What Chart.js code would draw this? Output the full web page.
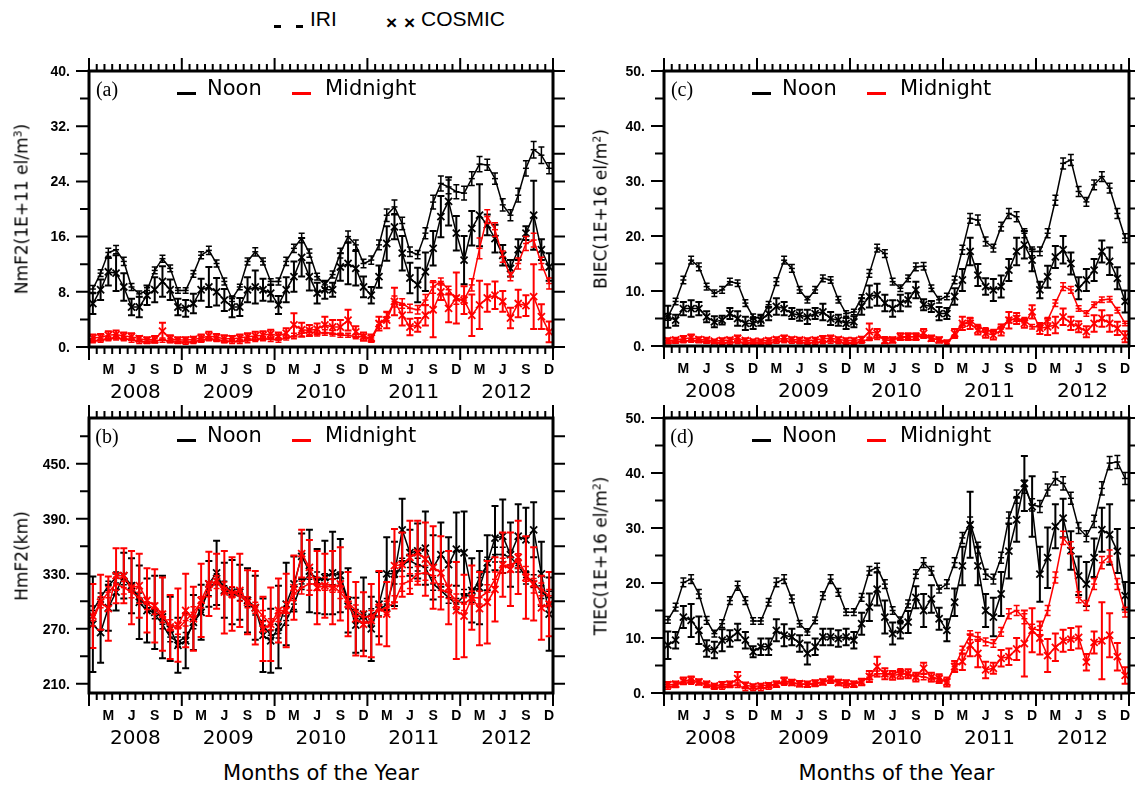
<!DOCTYPE html>
<html>
<head>
<meta charset="utf-8">
<title>IRI vs COSMIC: NmF2, HmF2, BIEC, TIEC 2008-2012</title>
<script src="https://cdn.jsdelivr.net/npm/chart.js@4.4.1/dist/chart.umd.min.js"></script>
<style>
  html, body { margin: 0; padding: 0; background: #fff; }
  body { position: relative; width: 1135px; height: 791px; overflow: hidden; font-family: "DejaVu Sans", sans-serif; color: #000; }
  canvas { position: absolute; }
  .t { position: absolute; white-space: nowrap; line-height: 1; }
  .c { transform: translate(-50%, -50%); }
  .ytitle { transform: translate(-50%, -50%) rotate(-90deg); font-size: 17px; }
  .ytitle sup { font-size: 11px; vertical-align: 6px; line-height: 0; }
  .tag { font-family: "Liberation Serif", "Times New Roman", serif; font-size: 20px; }
  .key { font-size: 21px; }
  .dash { position: absolute; height: 3px; }
  .top { font-family: "Liberation Sans", Arial, sans-serif; font-size: 21px; }
  .mark { font-family: "Liberation Sans", Arial, sans-serif; font-weight: bold; font-size: 19px; }
  .xtitle { font-size: 21px; }
</style>
</head>
<body>
<div class="dash" style="left:274px;top:25px;width:7px;background:#000"></div>
<div class="dash" style="left:296px;top:25px;width:7px;background:#000"></div>
<div class="t top" style="left:310px;top:8px">IRI</div>
<div class="t mark" style="left:386px;top:13px">×</div>
<div class="t mark" style="left:404px;top:13px">×</div>
<div class="t top" style="left:421px;top:8px">COSMIC</div>
<script>
// --- 1. DATA (one value per month, Jan 2008 .. Dec 2012) ---
const years = ['2008', '2009', '2010', '2011', '2012'];
const seasonLabels = ['M', 'J', 'S', 'D'];
const seasonMonths = [3, 6, 9, 12];

// tick values / labelled ticks
const nmTicks = [0, 4, 8, 12, 16, 20, 24, 28, 32, 36, 40];
const nmLabels = [0, 8, 16, 24, 32, 40];
const hmTicks = [210, 240, 270, 300, 330, 360, 390, 420, 450, 480];
const hmLabels = [210, 270, 330, 390, 450];
const tecTicks = [0, 5, 10, 15, 20, 25, 30, 35, 40, 45, 50];
const tecLabels = [0, 10, 20, 30, 40, 50];

// (a) NmF2 (1E+11 el/m3)
const nmIriNoon = [
  8.4, 10.7, 13.7, 14.1, 12.4, 8.7, 7.7, 8.2, 11.1, 12.8, 11.4, 8.2,
  8.2, 10.6, 13.3, 14.0, 12.1, 9.5, 7.0, 8.7, 12.4, 13.8, 12.4, 9.5,
  9.5, 12.4, 14.3, 15.8, 13.6, 10.2, 9.0, 10.5, 13.6, 16.0, 14.8, 12.1,
  12.6, 14.8, 19.1, 20.3, 17.9, 13.8, 13.4, 16.5, 21.0, 23.7, 23.2, 22.5,
  22.3, 24.4, 26.5, 26.4, 24.4, 20.6, 19.1, 22.0, 25.9, 28.6, 27.8, 25.9];
const nmIriNoonErr = [
  0.5, 0.5, 0.6, 0.6, 0.6, 0.5, 0.4, 0.4, 0.5, 0.5, 0.5, 0.4,
  0.4, 0.5, 0.5, 0.6, 0.5, 0.5, 0.4, 0.4, 0.5, 0.6, 0.5, 0.4,
  0.5, 0.6, 0.6, 0.7, 0.6, 0.5, 0.5, 0.5, 0.7, 0.8, 0.7, 0.6,
  0.6, 0.7, 0.9, 1.0, 0.9, 0.7, 0.6, 0.8, 1.0, 1.1, 1.0, 1.0,
  1.0, 1.0, 1.1, 0.8, 0.8, 0.9, 0.8, 1.0, 1.1, 1.2, 1.2, 0.8];
const nmCosNoon = [
  6.3, 8.3, 10.9, 10.7, 8.7, 5.8, 5.8, 7.5, 8.3, 9.5, 8.3, 5.8,
  5.6, 6.3, 8.3, 8.7, 8.0, 6.8, 5.8, 5.8, 8.3, 8.7, 8.3, 7.8,
  6.1, 8.3, 10.2, 13.0, 10.2, 7.8, 8.3, 8.3, 11.6, 12.1, 11.4, 8.7,
  7.5, 10.2, 15.0, 17.4, 13.6, 10.0, 9.0, 10.9, 14.3, 18.9, 21.1, 16.5,
  12.6, 17.2, 19.1, 17.7, 15.7, 13.3, 11.4, 14.1, 16.5, 19.1, 14.1, 11.6];
const nmCosNoonErr = [
  1.5, 1.5, 2.0, 2.6, 2.0, 1.2, 1.5, 1.4, 1.8, 2.2, 1.5, 1.2,
  1.2, 1.4, 1.6, 2.9, 2.0, 1.6, 1.5, 1.3, 1.8, 2.4, 1.6, 1.2,
  1.3, 1.8, 2.2, 2.8, 2.0, 1.5, 1.3, 1.0, 2.0, 3.0, 2.5, 1.5,
  1.2, 1.6, 2.5, 1.8, 2.5, 2.2, 2.5, 2.8, 2.5, 3.0, 3.5, 2.5,
  3.5, 2.5, 4.5, 1.5, 2.0, 1.5, 1.2, 1.5, 1.0, 5.0, 1.5, 2.0];
const nmIriMid = [
  0.9, 1.0, 1.2, 1.3, 1.2, 1.0, 0.8, 0.8, 0.9, 1.0, 0.9, 0.8,
  0.7, 0.8, 1.0, 1.2, 1.1, 0.9, 0.8, 0.8, 0.9, 1.1, 1.2, 1.1,
  1.0, 1.3, 1.6, 2.0, 2.2, 2.0, 2.1, 2.0, 1.7, 1.7, 1.5, 1.5,
  1.0, 3.2, 4.4, 6.6, 6.3, 5.6, 5.4, 6.8, 8.7, 9.5, 8.3, 6.8,
  6.8, 9.0, 14.3, 18.9, 17.0, 13.1, 10.2, 12.1, 15.0, 15.5, 12.1, 9.2];
const nmIriMidErr = [
  0.3, 0.3, 0.3, 0.3, 0.3, 0.3, 0.3, 0.3, 0.3, 0.3, 0.3, 0.3,
  0.3, 0.3, 0.3, 0.3, 0.3, 0.3, 0.3, 0.3, 0.3, 0.3, 0.3, 0.3,
  0.3, 0.3, 0.4, 0.4, 0.4, 0.4, 0.4, 0.4, 0.3, 0.3, 0.3, 0.3,
  0.3, 0.5, 0.6, 0.8, 0.7, 0.6, 0.6, 0.8, 0.9, 0.5, 0.5, 0.6,
  0.6, 0.9, 1.5, 1.0, 1.0, 0.8, 0.6, 0.8, 1.0, 1.0, 0.9, 0.8];
const nmCosMid = [
  1.3, 1.4, 1.7, 1.8, 1.6, 1.5, 1.2, 1.0, 1.1, 2.3, 1.2, 1.0,
  1.0, 1.1, 1.3, 1.6, 1.4, 1.2, 1.2, 1.3, 1.5, 1.6, 1.7, 1.9,
  1.6, 2.0, 3.2, 2.5, 2.4, 2.6, 3.2, 2.9, 2.9, 3.9, 2.2, 1.5,
  1.3, 3.4, 3.9, 6.6, 4.6, 2.9, 3.2, 4.6, 5.4, 8.0, 5.6, 7.1,
  6.8, 4.6, 6.1, 7.1, 7.5, 6.6, 4.2, 6.3, 6.0, 7.3, 4.4, 2.2];
const nmCosMidErr = [
  0.5, 0.5, 0.6, 0.6, 0.5, 0.5, 0.4, 0.4, 0.5, 1.2, 0.5, 0.4,
  0.4, 0.4, 0.5, 0.6, 0.5, 0.5, 0.4, 0.5, 0.5, 0.6, 0.6, 0.6,
  0.5, 0.7, 1.7, 1.0, 0.8, 0.8, 1.2, 1.0, 1.0, 1.5, 0.8, 0.6,
  0.5, 1.0, 1.2, 2.0, 1.5, 1.2, 1.0, 1.5, 4.0, 1.2, 2.0, 3.7,
  2.0, 3.0, 3.5, 2.0, 2.0, 1.5, 1.5, 2.0, 1.5, 4.7, 1.8, 1.5];

// (b) HmF2 (km)
const hmIriNoon = [
  290, 304, 317, 326, 324, 315, 304, 293, 286, 275, 261, 256,
  261, 275, 293, 312, 324, 317, 310, 306, 299, 290, 274, 263,
  265, 279, 297, 319, 330, 326, 324, 324, 326, 297, 286, 281,
  286, 290, 297, 326, 340, 344, 340, 337, 319, 312, 304, 297,
  306, 306, 326, 340, 351, 351, 348, 339, 326, 322, 310, 304];
const hmIriNoonErr = [
  5, 5, 5, 6, 6, 5, 5, 5, 5, 5, 5, 5,
  5, 5, 5, 6, 6, 5, 5, 5, 5, 5, 5, 5,
  5, 5, 6, 6, 6, 6, 6, 6, 6, 5, 5, 5,
  6, 6, 6, 7, 7, 7, 7, 7, 7, 7, 6, 6,
  7, 7, 7, 8, 8, 8, 8, 7, 7, 7, 7, 7];
const hmCosNoon = [
  275, 266, 293, 310, 328, 317, 299, 290, 288, 283, 270, 252,
  257, 277, 288, 319, 331, 312, 310, 310, 301, 293, 263, 257,
  272, 297, 319, 349, 333, 322, 326, 331, 328, 301, 274, 286,
  270, 297, 330, 330, 378, 353, 355, 358, 337, 351, 340, 357,
  353, 312, 315, 342, 369, 371, 351, 371, 367, 378, 330, 286];
const hmCosNoonErr = [
  52, 33, 25, 20, 25, 30, 40, 35, 40, 45, 35, 30,
  30, 30, 30, 25, 35, 30, 35, 30, 35, 35, 40, 35,
  45, 45, 30, 25, 45, 35, 40, 45, 40, 35, 30, 40,
  35, 35, 40, 35, 34, 25, 30, 40, 35, 35, 30, 40,
  45, 35, 40, 30, 35, 40, 35, 35, 35, 30, 35, 40];
const hmIriMid = [
  279, 299, 310, 319, 315, 310, 304, 297, 292, 283, 274, 270,
  279, 288, 299, 312, 321, 315, 310, 306, 299, 293, 284, 275,
  284, 293, 308, 315, 319, 319, 319, 317, 310, 299, 290, 283,
  284, 290, 293, 299, 319, 322, 330, 331, 328, 312, 310, 301,
  297, 304, 304, 310, 324, 339, 340, 344, 330, 317, 313, 306];
const hmIriMidErr = [
  6, 6, 6, 7, 7, 6, 6, 6, 6, 6, 6, 6,
  6, 6, 6, 7, 7, 6, 6, 6, 6, 6, 6, 6,
  6, 6, 7, 7, 7, 7, 7, 7, 7, 6, 6, 6,
  6, 7, 7, 7, 8, 8, 8, 8, 8, 7, 7, 7,
  7, 7, 7, 8, 8, 8, 8, 8, 8, 8, 7, 7];
const hmCosMid = [
  284, 299, 292, 328, 328, 315, 317, 301, 295, 286, 272, 274,
  290, 281, 301, 319, 322, 310, 308, 312, 299, 293, 270, 275,
  290, 290, 315, 352, 337, 315, 317, 315, 319, 297, 281, 275,
  279, 293, 286, 339, 340, 348, 353, 346, 337, 331, 315, 290,
  284, 304, 292, 299, 313, 340, 335, 348, 326, 319, 293, 297];
const hmCosMidErr = [
  35, 30, 35, 30, 30, 40, 35, 35, 40, 40, 35, 40,
  40, 35, 40, 35, 30, 45, 40, 40, 35, 40, 35, 40,
  35, 40, 35, 26, 30, 40, 35, 40, 40, 35, 40, 35,
  40, 40, 35, 40, 35, 40, 35, 40, 45, 40, 40, 53,
  45, 35, 40, 45, 35, 35, 40, 40, 45, 40, 35, 35];

// (c) BIEC (1E+16 el/m2)
const ieIriNoon = [
  5.3, 8.1, 12.0, 15.6, 14.4, 10.8, 9.6, 10.2, 11.7, 11.4, 7.8, 5.3,
  5.0, 7.5, 11.7, 15.6, 14.1, 10.2, 8.4, 10.2, 12.3, 12.0, 8.4, 5.9,
  6.2, 8.7, 13.2, 17.8, 16.8, 11.7, 10.5, 12.3, 14.4, 14.5, 10.5, 8.4,
  9.0, 12.0, 17.5, 23.2, 22.9, 19.0, 17.8, 21.7, 24.1, 23.5, 20.5, 17.2,
  17.2, 20.5, 26.5, 33.2, 33.8, 28.1, 26.2, 29.3, 30.8, 28.7, 24.1, 19.6];
const ieIriNoonErr = [
  0.6, 0.6, 0.7, 0.7, 0.7, 0.6, 0.6, 0.6, 0.6, 0.6, 0.6, 0.5,
  0.5, 0.6, 0.7, 0.7, 0.7, 0.6, 0.6, 0.6, 0.6, 0.6, 0.6, 0.5,
  0.5, 0.6, 0.7, 0.7, 0.7, 0.6, 0.6, 0.6, 0.7, 0.7, 0.6, 0.6,
  0.6, 0.7, 0.8, 0.9, 0.9, 0.8, 0.7, 0.8, 0.9, 0.9, 0.8, 0.8,
  0.8, 0.8, 0.9, 1.0, 1.0, 0.9, 0.8, 0.9, 0.9, 0.9, 0.9, 0.8];
const ieCosNoon = [
  5.3, 4.7, 6.8, 6.8, 6.8, 5.3, 4.4, 4.7, 5.9, 5.0, 4.1, 4.1,
  4.7, 5.9, 7.2, 6.8, 5.9, 5.6, 5.3, 5.9, 6.2, 5.0, 4.7, 4.1,
  4.4, 7.2, 9.0, 9.3, 7.8, 6.8, 7.8, 8.4, 10.2, 7.5, 7.2, 5.9,
  5.9, 9.0, 12.0, 17.2, 12.9, 10.8, 10.2, 10.8, 13.8, 17.2, 18.4, 15.6,
  10.2, 12.6, 16.2, 17.5, 15.0, 10.5, 12.0, 13.8, 17.2, 15.4, 12.3, 8.1];
const ieCosNoonErr = [
  2.0, 1.0, 1.2, 1.5, 1.2, 1.0, 1.0, 0.8, 1.0, 1.3, 1.2, 1.0,
  1.0, 1.2, 1.5, 1.2, 1.0, 1.0, 1.3, 1.0, 1.5, 1.2, 1.0, 1.0,
  1.0, 1.5, 2.0, 2.0, 1.5, 1.5, 1.5, 1.2, 1.5, 1.0, 1.0, 1.2,
  1.0, 1.5, 2.0, 2.5, 2.0, 1.5, 2.0, 2.0, 2.0, 2.5, 2.5, 2.0,
  1.5, 2.0, 2.0, 2.5, 2.0, 2.0, 2.0, 2.0, 2.0, 2.5, 2.0, 2.0];
const ieIriMid = [
  0.7, 0.8, 0.9, 1.0, 0.9, 0.8, 0.7, 0.6, 0.6, 0.7, 0.6, 0.6,
  0.6, 0.6, 0.8, 0.9, 0.8, 0.7, 0.6, 0.6, 0.7, 0.8, 0.7, 0.6,
  0.6, 0.8, 1.3, 1.6, 1.4, 1.2, 1.5, 1.7, 1.7, 1.7, 1.4, 1.1,
  0.8, 1.7, 3.8, 4.7, 3.5, 2.9, 2.6, 3.5, 4.7, 5.0, 4.7, 3.5,
  3.5, 4.7, 7.8, 10.8, 10.2, 6.8, 5.9, 7.5, 8.4, 8.5, 6.5, 4.1];
const ieIriMidErr = [
  0.3, 0.3, 0.3, 0.3, 0.3, 0.3, 0.3, 0.3, 0.3, 0.3, 0.3, 0.3,
  0.3, 0.3, 0.3, 0.3, 0.3, 0.3, 0.3, 0.3, 0.3, 0.3, 0.3, 0.3,
  0.3, 0.3, 0.3, 0.4, 0.3, 0.3, 0.3, 0.3, 0.3, 0.3, 0.3, 0.3,
  0.3, 0.3, 0.4, 0.5, 0.4, 0.4, 0.4, 0.4, 0.5, 0.5, 0.5, 0.4,
  0.4, 0.5, 0.6, 0.7, 0.6, 0.5, 0.5, 0.5, 0.5, 0.5, 0.5, 0.4];
const ieCosMid = [
  1.0, 1.1, 1.3, 1.5, 1.2, 1.1, 0.9, 1.0, 1.1, 1.4, 1.0, 0.9,
  0.9, 1.0, 1.2, 1.4, 1.2, 1.1, 1.0, 1.1, 1.3, 1.4, 1.2, 1.0,
  1.0, 1.2, 2.6, 2.3, 1.0, 1.1, 1.7, 1.7, 1.7, 2.3, 1.4, 1.1,
  0.5, 2.3, 4.1, 4.1, 2.9, 2.3, 2.0, 2.9, 4.7, 5.0, 4.1, 6.2,
  3.2, 3.5, 3.8, 5.3, 4.1, 3.5, 2.6, 4.1, 5.0, 4.1, 3.2, 1.7];
const ieCosMidErr = [
  0.4, 0.4, 0.5, 0.6, 0.4, 0.4, 0.3, 0.4, 0.4, 0.5, 0.4, 0.3,
  0.3, 0.4, 0.4, 0.5, 0.4, 0.4, 0.4, 0.4, 0.5, 0.5, 0.4, 0.4,
  0.4, 0.5, 1.5, 0.8, 0.5, 0.5, 0.6, 0.6, 0.6, 0.8, 0.5, 0.5,
  0.4, 0.8, 1.2, 1.0, 0.8, 0.8, 0.8, 1.0, 1.5, 1.0, 0.8, 1.2,
  1.0, 1.5, 1.5, 1.5, 1.2, 1.0, 1.0, 1.5, 1.5, 1.5, 1.2, 1.0];

// (d) TIEC (1E+16 el/m2)
const teIriNoon = [
  13.3, 15.6, 20.1, 20.7, 18.0, 13.2, 10.8, 12.6, 16.8, 19.5, 16.8, 13.1,
  13.1, 16.5, 20.1, 20.7, 17.1, 12.6, 11.1, 13.2, 17.7, 20.7, 18.3, 14.7,
  14.7, 17.4, 22.2, 22.8, 19.8, 15.0, 13.2, 16.2, 21.6, 23.7, 22.2, 18.9,
  19.8, 23.7, 28.2, 30.9, 26.4, 21.6, 20.7, 24.6, 31.8, 35.7, 37.5, 34.2,
  33.9, 36.9, 39.0, 38.1, 35.4, 30.0, 28.5, 31.2, 37.2, 41.8, 42.0, 39.0];
const teIriNoonErr = [
  0.6, 0.7, 0.8, 0.8, 0.8, 0.7, 0.6, 0.7, 0.7, 0.8, 0.7, 0.6,
  0.6, 0.7, 0.8, 0.8, 0.7, 0.6, 0.6, 0.6, 0.7, 0.8, 0.7, 0.6,
  0.6, 0.7, 0.8, 0.8, 0.8, 0.7, 0.6, 0.7, 0.8, 0.9, 0.8, 0.7,
  0.8, 0.9, 1.0, 1.1, 1.0, 0.9, 0.9, 1.0, 1.1, 1.2, 1.2, 1.1,
  1.1, 1.1, 1.2, 1.2, 1.1, 1.0, 1.0, 1.1, 1.2, 1.2, 1.2, 1.1];
const teCosNoon = [
  8.7, 9.6, 13.8, 13.2, 11.4, 8.1, 7.8, 9.6, 9.9, 11.1, 9.6, 7.5,
  8.4, 8.4, 11.4, 10.5, 10.2, 9.0, 7.2, 8.4, 10.2, 10.2, 9.9, 10.2,
  9.6, 12.6, 15.6, 18.9, 13.8, 10.8, 11.4, 12.9, 17.4, 15.0, 17.1, 13.5,
  11.4, 16.5, 23.1, 30.6, 23.1, 15.0, 13.8, 18.0, 25.8, 31.5, 38.1, 33.9,
  21.6, 24.6, 30.3, 31.8, 25.9, 21.3, 19.8, 24.6, 29.7, 28.8, 25.8, 17.7];
const teCosNoonErr = [
  2.5, 1.5, 2.0, 3.0, 2.5, 1.5, 1.5, 2.0, 1.5, 1.5, 1.5, 1.0,
  1.5, 1.5, 2.0, 2.0, 1.5, 1.5, 2.0, 1.5, 1.5, 1.5, 1.5, 1.5,
  1.5, 2.0, 2.5, 3.0, 3.0, 2.0, 1.5, 2.0, 2.0, 3.0, 2.5, 2.0,
  2.0, 2.5, 3.5, 6.0, 3.5, 3.0, 3.5, 4.0, 5.0, 4.0, 5.0, 5.5,
  5.0, 5.5, 4.0, 3.5, 3.5, 3.5, 4.0, 3.5, 4.0, 5.5, 4.0, 2.5];
const teIriMid = [
  1.1, 1.4, 2.0, 2.0, 2.0, 1.4, 1.1, 1.1, 1.4, 1.4, 0.8, 0.8,
  0.8, 1.1, 1.7, 1.8, 1.8, 1.6, 1.6, 1.6, 2.0, 2.4, 2.0, 1.4,
  1.7, 2.2, 2.9, 3.5, 3.5, 3.5, 3.9, 3.2, 3.2, 2.9, 2.6, 2.6,
  2.0, 4.8, 7.8, 10.5, 10.2, 9.3, 9.0, 11.1, 14.4, 15.0, 13.5, 11.7,
  11.4, 15.0, 21.0, 28.2, 26.4, 17.4, 15.9, 19.8, 23.7, 24.9, 19.8, 14.7];
const teIriMidErr = [
  0.4, 0.4, 0.4, 0.4, 0.4, 0.4, 0.4, 0.4, 0.4, 0.4, 0.4, 0.4,
  0.4, 0.4, 0.4, 0.4, 0.4, 0.4, 0.4, 0.4, 0.4, 0.4, 0.4, 0.4,
  0.4, 0.4, 0.5, 0.5, 0.5, 0.5, 0.5, 0.5, 0.5, 0.5, 0.5, 0.5,
  0.5, 0.6, 0.7, 0.8, 0.8, 0.7, 0.7, 0.8, 0.9, 0.9, 0.9, 0.8,
  0.8, 0.9, 1.0, 1.2, 1.1, 1.0, 0.9, 1.0, 1.1, 1.1, 1.0, 0.9];
const teCosMid = [
  1.5, 1.6, 2.2, 2.4, 2.0, 1.6, 1.3, 1.5, 1.6, 2.6, 1.4, 1.2,
  1.3, 1.4, 1.6, 2.2, 1.9, 1.7, 1.6, 1.8, 2.0, 2.4, 1.9, 1.8,
  1.6, 2.0, 3.0, 4.8, 3.5, 3.2, 3.4, 3.5, 2.9, 4.5, 2.9, 2.6,
  2.0, 4.8, 5.7, 8.7, 7.2, 4.2, 4.5, 6.3, 6.6, 8.0, 9.0, 11.4,
  10.0, 6.8, 8.3, 9.5, 9.8, 10.1, 5.6, 9.2, 9.5, 10.5, 6.6, 3.2];
const teCosMidErr = [
  0.5, 0.5, 0.6, 0.6, 0.5, 0.5, 0.4, 0.5, 0.5, 1.2, 0.5, 0.4,
  0.4, 0.4, 0.5, 0.6, 0.5, 0.5, 0.5, 0.5, 0.5, 0.6, 0.5, 0.5,
  0.5, 0.6, 1.0, 1.8, 1.0, 0.8, 0.8, 0.8, 0.8, 1.0, 0.8, 0.8,
  0.8, 1.0, 1.5, 2.0, 2.5, 1.5, 1.0, 1.5, 1.5, 2.0, 6.0, 4.0,
  3.0, 3.0, 2.5, 2.0, 2.0, 2.0, 1.5, 2.0, 7.0, 4.0, 2.5, 1.5];

// --- 2. LAYOUT ---
const BLACK = '#000000';
const RED = '#ff0000';
const PAD = { left: 64, right: 22, top: 18, bottom: 62 };

const panels = [
  { tag: '(a)', left: 89, top: 71, width: 464, height: 276, yMin: 0, yMax: 40,
    yTicks: nmTicks, yLabels: nmLabels, titleX: 22, title: 'NmF2(1E+11 el/m<sup>3</sup>)',
    series: [
      { vals: nmIriNoon, errs: nmIriNoonErr, color: BLACK, kind: 'iri' },
      { vals: nmCosNoon, errs: nmCosNoonErr, color: BLACK, kind: 'cosmic' },
      { vals: nmIriMid, errs: nmIriMidErr, color: RED, kind: 'iri' },
      { vals: nmCosMid, errs: nmCosMidErr, color: RED, kind: 'cosmic' }] },
  { tag: '(b)', left: 89, top: 418, width: 464, height: 275, yMin: 200, yMax: 500,
    yTicks: hmTicks, yLabels: hmLabels, titleX: 22, title: 'HmF2(km)', xTitle: true,
    series: [
      { vals: hmIriNoon, errs: hmIriNoonErr, color: BLACK, kind: 'iri' },
      { vals: hmCosNoon, errs: hmCosNoonErr, color: BLACK, kind: 'cosmic' },
      { vals: hmIriMid, errs: hmIriMidErr, color: RED, kind: 'iri' },
      { vals: hmCosMid, errs: hmCosMidErr, color: RED, kind: 'cosmic' }] },
  { tag: '(c)', left: 664, top: 71, width: 465, height: 275, yMin: 0, yMax: 50,
    yTicks: tecTicks, yLabels: tecLabels, titleX: 601, title: 'BIEC(1E+16 el/m<sup>2</sup>)',
    series: [
      { vals: ieIriNoon, errs: ieIriNoonErr, color: BLACK, kind: 'iri' },
      { vals: ieCosNoon, errs: ieCosNoonErr, color: BLACK, kind: 'cosmic' },
      { vals: ieIriMid, errs: ieIriMidErr, color: RED, kind: 'iri' },
      { vals: ieCosMid, errs: ieCosMidErr, color: RED, kind: 'cosmic' }] },
  { tag: '(d)', left: 664, top: 418, width: 465, height: 275, yMin: 0, yMax: 50,
    yTicks: tecTicks, yLabels: tecLabels, titleX: 601, title: 'TIEC(1E+16 el/m<sup>2</sup>)', xTitle: true,
    series: [
      { vals: teIriNoon, errs: teIriNoonErr, color: BLACK, kind: 'iri' },
      { vals: teCosNoon, errs: teCosNoonErr, color: BLACK, kind: 'cosmic' },
      { vals: teIriMid, errs: teIriMidErr, color: RED, kind: 'iri' },
      { vals: teCosMid, errs: teCosMidErr, color: RED, kind: 'cosmic' }] }
];

// --- 3. PLUGINS ---
// vertical error bars with caps, drawn right after their own dataset
const errorBars = {
  id: 'errorBars',
  afterDatasetDraw(chart, args) {
    const ds = chart.data.datasets[args.index];
    if (!ds.errs) return;
    const { ctx, chartArea: a, scales: { x, y } } = chart;
    const cosmic = ds.kind === 'cosmic';
    const cap = cosmic ? 3.5 : 3;
    ctx.save();
    ctx.beginPath();
    ctx.rect(a.left, a.top, a.right - a.left, a.bottom - a.top);
    ctx.clip();
    ctx.strokeStyle = ds.borderColor;
    ctx.lineWidth = cosmic ? 2 : 1.5;
    ctx.beginPath();
    ds.data.forEach((p, i) => {
      const e = ds.errs[i];
      const px = x.getPixelForValue(p.x);
      const lo = y.getPixelForValue(p.y - e);
      const hi = y.getPixelForValue(p.y + e);
      ctx.moveTo(px, lo); ctx.lineTo(px, hi);
      ctx.moveTo(px - cap, lo); ctx.lineTo(px + cap, lo);
      ctx.moveTo(px - cap, hi); ctx.lineTo(px + cap, hi);
    });
    ctx.stroke();
    ctx.restore();
  }
};

// box, outward ticks on all four sides, tick labels
function makeFrame(p) {
  return {
    id: 'frame',
    afterDraw(chart) {
      const { ctx, chartArea: a, scales: { x, y } } = chart;
      ctx.save();
      ctx.strokeStyle = '#000';
      ctx.lineWidth = 2;
      ctx.beginPath();
      for (let m = 0; m <= 60; m++) {
        const px = x.getPixelForValue(m);
        const len = m % 12 === 0 ? 13 : 7;
        ctx.moveTo(px, a.bottom); ctx.lineTo(px, a.bottom + len);
        ctx.moveTo(px, a.top); ctx.lineTo(px, a.top - len);
      }
      p.yTicks.forEach(v => {
        const py = y.getPixelForValue(v);
        const len = p.yLabels.includes(v) ? 13 : 9;
        ctx.moveTo(a.left, py); ctx.lineTo(a.left - len, py);
        ctx.moveTo(a.right, py); ctx.lineTo(a.right + 12, py);
      });
      ctx.stroke();
      ctx.lineWidth = 3;
      ctx.strokeRect(a.left, a.top, a.right - a.left, a.bottom - a.top);

      ctx.fillStyle = '#000';
      ctx.font = 'bold 14px "Liberation Sans", Arial, sans-serif';
      ctx.textAlign = 'right';
      ctx.textBaseline = 'middle';
      p.yLabels.forEach(v => ctx.fillText(v + '.', a.left - 19, y.getPixelForValue(v) + 1));

      ctx.textAlign = 'center';
      years.forEach((yr, k) => {
        seasonMonths.forEach((m, j) => {
          ctx.fillText(seasonLabels[j], x.getPixelForValue(12 * k + m - 0.5), a.bottom + 23);
        });
      });
      ctx.font = '20px "DejaVu Sans", sans-serif';
      years.forEach((yr, k) => ctx.fillText(yr, x.getPixelForValue(12 * k + 6), a.bottom + 46));
      ctx.restore();
    }
  };
}

// --- 4. BUILD ---
function addText(html, cls, style) {
  const el = document.createElement('div');
  el.className = 't ' + cls;
  el.innerHTML = html;
  Object.assign(el.style, style);
  document.body.appendChild(el);
  return el;
}

function makeDataset(s) {
  const cosmic = s.kind === 'cosmic';
  return {
    data: s.vals.map((v, i) => ({ x: i + 0.5, y: v })),
    errs: s.errs,
    kind: s.kind,
    borderColor: s.color,
    backgroundColor: s.color,
    borderWidth: 1.5,
    pointStyle: cosmic ? 'crossRot' : 'line',
    pointRadius: cosmic ? 5 : 3,
    pointBorderWidth: cosmic ? 1.8 : 1.5,
    pointBorderColor: s.color,
    fill: false,
    tension: 0,
    order: s.color === RED ? 0 : 1
  };
}

panels.forEach(p => {
  const canvas = document.createElement('canvas');
  canvas.width = p.width + PAD.left + PAD.right;
  canvas.height = p.height + PAD.top + PAD.bottom;
  canvas.style.left = (p.left - PAD.left) + 'px';
  canvas.style.top = (p.top - PAD.top) + 'px';
  document.body.appendChild(canvas);

  new Chart(canvas.getContext('2d'), {
    type: 'line',
    data: { datasets: p.series.map(makeDataset) },
    options: {
      responsive: false,
      animation: false,
      devicePixelRatio: 1,
      layout: { padding: PAD },
      plugins: { legend: { display: false }, tooltip: { enabled: false } },
      scales: {
        x: { type: 'linear', display: false, min: 0, max: 60 },
        y: { type: 'linear', display: false, min: p.yMin, max: p.yMax }
      }
    },
    plugins: [errorBars, makeFrame(p)]
  });

  // panel tag and Noon / Midnight key
  addText(p.tag, 'tag c', { left: (p.left + 18) + 'px', top: (p.top + 18) + 'px' });
  const k1 = document.createElement('div');
  k1.className = 'dash';
  Object.assign(k1.style, { left: (p.left + 88) + 'px', top: (p.top + 21) + 'px', width: '19px', background: BLACK });
  document.body.appendChild(k1);
  addText('Noon', 'key', { left: (p.left + 118) + 'px', top: (p.top + 7) + 'px' });
  const k2 = document.createElement('div');
  k2.className = 'dash';
  Object.assign(k2.style, { left: (p.left + 203) + 'px', top: (p.top + 21) + 'px', width: '19px', background: RED });
  document.body.appendChild(k2);
  addText('Midnight', 'key', { left: (p.left + 236) + 'px', top: (p.top + 7) + 'px' });

  // axis titles
  addText(p.title, 'ytitle', { left: p.titleX + 'px', top: (p.top + p.height / 2) + 'px' });
  if (p.xTitle) {
    addText('Months of the Year', 'xtitle c', { left: (p.left + p.width / 2) + 'px', top: '773px' });
  }
});
</script>
</body>
</html>
